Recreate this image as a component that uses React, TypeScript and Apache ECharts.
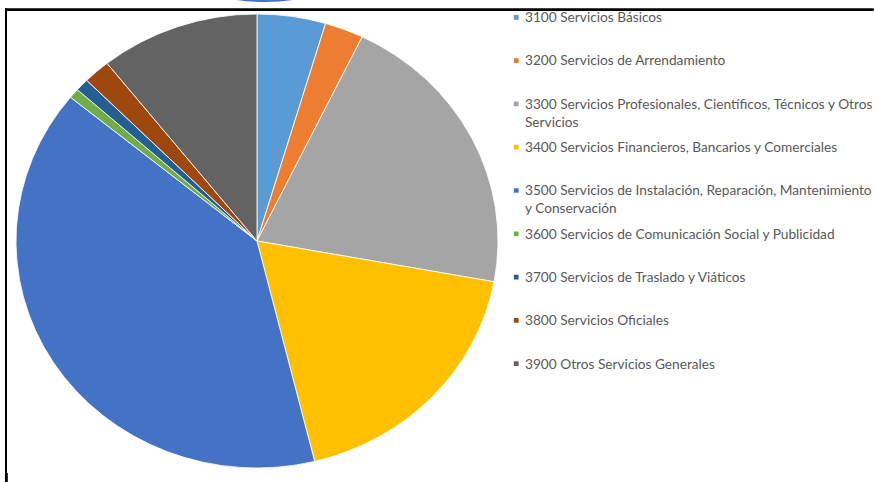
import React, { useEffect, useRef } from "react";
import * as echarts from "echarts";

const categories = [
  "3100 Servicios Básicos",
  "3200 Servicios de Arrendamiento",
  "3300 Servicios Profesionales, Científicos, Técnicos y Otros Servicios",
  "3400 Servicios Financieros, Bancarios y Comerciales",
  "3500 Servicios de Instalación, Reparación, Mantenimiento y Conservación",
  "3600 Servicios de Comunicación Social y Publicidad",
  "3700 Servicios de Traslado y Viáticos",
  "3800 Servicios Oficiales",
  "3900 Otros Servicios Generales",
];
const values = [4.6, 2.6, 20.7, 18.3, 39.8, 0.7, 0.9, 1.8, 10.7];
const colors = [
  "#5B9BD5",
  "#ED7D31",
  "#A5A5A5",
  "#FFC000",
  "#4472C4",
  "#70AD47",
  "#255E91",
  "#9E480E",
  "#636363",
];

// the reference image is stretched horizontally; reproduce with a CSS scaleX
const SX = 241 / 227;
const W = 874 / SX;
const H = 482;
const LINE_H = 18;

const wrapName = (name: string) =>
  name
    .replace("y Otros Servicios", "y Otros\nServicios")
    .replace("Mantenimiento y Conservación", "Mantenimiento\ny Conservación");

export default function App() {
  const ref = useRef<HTMLDivElement>(null);
  useEffect(() => {
    if (!ref.current) return;
    const chart = echarts.init(ref.current, undefined, { renderer: "svg" });
    const legends = categories.map((name, i) => {
      const twoLines = wrapName(name).includes("\n");
      const centerY = 17.3 + 43.3 * i;
      return {
        orient: "vertical",
        left: 511.7 / SX,
        top: centerY - (twoLines ? LINE_H * 1.5 : LINE_H / 2),
        padding: 0,
        itemWidth: 6.5,
        itemHeight: 6.7,
        icon: "rect",
        selectedMode: false,
        // an empty leading line keeps the icon level with the first text line
        formatter: (n: string) => (twoLines ? "\n" + wrapName(n) : n),
        textStyle: {
          fontFamily: "Lato",
          fontSize: 12.9,
          color: "#595959",
          lineHeight: LINE_H,
        },
        data: [name],
      };
    });
    chart.setOption({
      animation: false,
      color: colors,
      legend: legends,
      graphic: [
        {
          type: "ellipse",
          shape: { cx: 265 / SX, cy: -195, rx: 197 / SX, ry: 197 },
          style: { fill: "#4472C4" },
          silent: true,
        },
        {
          type: "rect",
          shape: { x: 5 / SX, y: 8.3, width: W, height: 2.7 },
          style: { fill: "#000" },
          silent: true,
        },
        {
          type: "rect",
          shape: { x: 5 / SX, y: 8.3, width: 2 / SX, height: H },
          style: { fill: "#000" },
          silent: true,
        },
        {
          type: "rect",
          shape: { x: 5 / SX, y: 473, width: 2.8 / SX, height: 10 },
          style: { fill: "#000" },
          silent: true,
        },
      ],
      series: [
        {
          type: "pie",
          center: [257 / SX, 241],
          radius: 227,
          startAngle: 90,
          clockwise: true,
          label: { show: false },
          labelLine: { show: false },
          emphasis: { disabled: true },
          itemStyle: { borderColor: "#ffffff", borderWidth: 0.8 },
          data: categories.map((name, i) => ({ name, value: values[i] })),
        },
      ],
    });
    return () => chart.dispose();
  }, []);
  return (
    <div
      style={{
        position: "fixed",
        left: 0,
        top: 0,
        width: 874,
        height: H,
        overflow: "hidden",
        background: "#fff",
      }}
    >
      <div
        ref={ref}
        style={{
          width: W,
          height: H,
          transform: `scaleX(${SX})`,
          transformOrigin: "0 0",
        }}
      />
    </div>
  );
}
